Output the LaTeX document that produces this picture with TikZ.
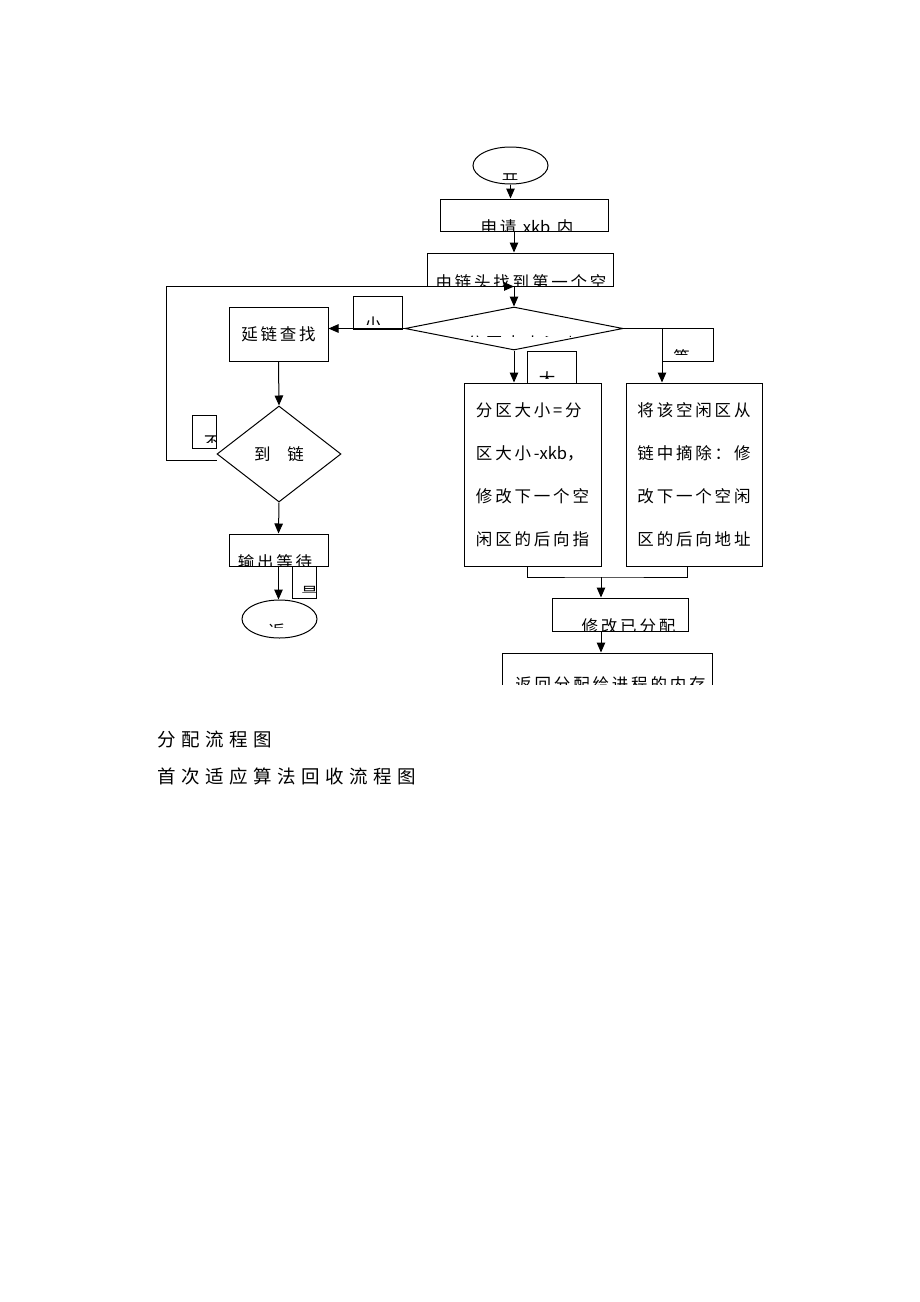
\documentclass[tikz,border=0pt]{standalone}
\usepackage{fontspec}
\newfontfamily\cjk[LetterSpace=17]{Noto Sans CJK SC}
\newfontfamily\cjkplain{Noto Sans CJK SC}
\newfontfamily\cjkcap[LetterSpace=30]{Noto Sans CJK SC}
\newcommand{\lat}[1]{{\cjkplain #1}}
\usetikzlibrary{arrows.meta,shapes.geometric,positioning}

\begin{document}
\begin{tikzpicture}[x=1pt,y=-1pt,line width=1pt,
    box/.style={draw,rectangle,inner sep=0pt},
    tag/.style={draw,rectangle,inner sep=0pt},
    txt/.style={inner sep=0pt,font=\cjk\fontsize{16.5}{20}\selectfont},
    arr/.style={-{Triangle[length=10pt,width=8.5pt]}}]
\fill[white] (0,0) rectangle (920,1302);
\useasboundingbox (0,0) rectangle (920,1302);

\node [ellipse,draw,minimum width=75,minimum height=37,inner sep=0pt] (start) at (510.5,165.5) {};
\node [box,minimum width=168,minimum height=32] (apply) at (524,215) {};
\node [box,minimum width=186,minimum height=33] (first) at (520,269.5) {};
\node [diamond,draw,minimum width=218,minimum height=43,inner sep=0pt] (decide) at (514,328.5) {};

\node [box,txt,minimum width=99,minimum height=54] (search) at (278.5,334) {延链查找};
\node [diamond,draw,txt,minimum width=124,minimum height=96] (reach) at (279,454) {到\hspace{17pt}链};
\node [box,minimum width=99,minimum height=32] (output) at (278.5,550) {};
\node [ellipse,draw,minimum width=75,minimum height=38,inner sep=0pt] (stop) at (279.5,619) {};

\node [box,txt,minimum width=137,minimum height=183,align=left,
       font=\cjk\fontsize{16.5}{43}\selectfont] (split) at (532.5,474.5)
      {分区大小=分\\区大小-\lat{xkb}，\\修改下一个空\\闲区的后向指};
\node [box,txt,minimum width=136,minimum height=183,align=left,
       font=\cjk\fontsize{16.5}{43}\selectfont] (remove) at (694,474.5)
      {将该空闲区从\\链中摘除：修\\改下一个空闲\\区的后向地址};
\node [box,minimum width=136,minimum height=33] (modify) at (620,614.5) {};

\node [tag,minimum width=49,minimum height=33] (less) at (377.5,312.5) {};
\node [tag,minimum width=49,minimum height=32] (more) at (551.5,367) {};
\node [tag,minimum width=51,minimum height=33] (equal) at (687.5,344.5) {};
\node [tag,minimum width=24,minimum height=33] (notend) at (204,431.5) {};
\node [tag,minimum width=24,minimum height=32] (isend) at (304,582) {};

\begin{scope}
  \clip (480,150) rectangle (540,179);
  \node [txt] (starttxt) at (510,181) {开};
\end{scope}
\begin{scope}
  \clip (apply.south west) rectangle (apply.north east);
  \node [txt] (applytxt) at (527,227) {申请 \lat{xkb} 内};
\end{scope}
\begin{scope}
  \clip (first.south west) rectangle (first.north east);
  \node [txt] (firsttxt) at (521,282) {由链头找到第一个空};
\end{scope}
\begin{scope}
  \clip (460,318) rectangle (570,336.5);
  \node [txt,anchor=west] (decidetxt) at (466,343) {分区大小≥\lat{xkb}};
\end{scope}
\begin{scope}
  \clip (354,297) rectangle (401,324);
  \node [txt] (lesstxt) at (373,324) {小};
\end{scope}
\begin{scope}
  \clip (528,352) rectangle (575,378.5);
  \node [txt] (moretxt) at (547,379) {大};
\end{scope}
\begin{scope}
  \clip (663,329) rectangle (712,354);
  \node [txt] (equaltxt) at (681.5,357) {等};
\end{scope}
\begin{scope}
  \clip (193,416) rectangle (216,442);
  \node [txt] (notendtxt) at (212,443) {不};
\end{scope}
\begin{scope}
  \clip (293,567) rectangle (316,592);
  \node [txt] (isendtxt) at (309.5,594) {是};
\end{scope}
\begin{scope}
  \clip (output.south west) rectangle ([yshift=-3pt]output.north east);
  \node [txt] (outputtxt) at (275,562) {输出等待};
\end{scope}
\begin{scope}
  \clip (250,605) rectangle (310,627);
  \node [txt] (stoptxt) at (276.5,631) {返};
\end{scope}
\begin{scope}
  \clip (modify.south west) rectangle ([yshift=-4pt]modify.north east);
  \node [txt] (modifytxt) at (628.5,626.5) {修改已分配};
\end{scope}
\begin{scope}
  \clip (0,0) rectangle (920,684.5);
  \node [box,minimum width=210,minimum height=40] (ret) at (607,673) {};
  \node [txt] (rettxt) at (610.5,684) {返回分配给进程的内存};
\end{scope}

\coordinate (eqturn) at (662,328.5);
\coordinate (join) at (601,577);

\draw [arr] (start.south) -- (start.south |- apply.north);
\draw [arr] (apply.south -| decide.north) -- (first.north -| decide.north);
\draw [arr] (first.south -| decide.north) -- (decide.north);
\draw [arr] (decide.west) -- (decide.west -| search.east);
\draw [arr] (decide.south) -- (decide.south |- split.north);
\draw [arr] (decide.east) -- (eqturn) -- (eqturn |- remove.north);
\draw [arr] (search.south) -- (reach.north);
\draw [arr] ([yshift=-6pt]reach.west) -- ++(-50,0) |- (first.south -| decide.north);
\draw [arr] (reach.south) -- (output.north);
\draw [arr] (output.south) -- (output.south |- stop.north);
\draw ([xshift=-5.5pt]split.south) |- (join) -| ([xshift=-7pt]remove.south);
\draw [arr] (join) -- (join |- modify.north);
\draw [arr] (modify.south -| join) -- (ret.north -| join);

\node [anchor=west,inner sep=0pt,font=\cjkcap\fontsize{18.5}{22}\selectfont] (cap1) at (157,739) {分配流程图};
\node [anchor=west,inner sep=0pt,font=\cjkcap\fontsize{18.5}{22}\selectfont] (cap2) at (157,776) {首次适应算法回收流程图};
\end{tikzpicture}
\end{document}
